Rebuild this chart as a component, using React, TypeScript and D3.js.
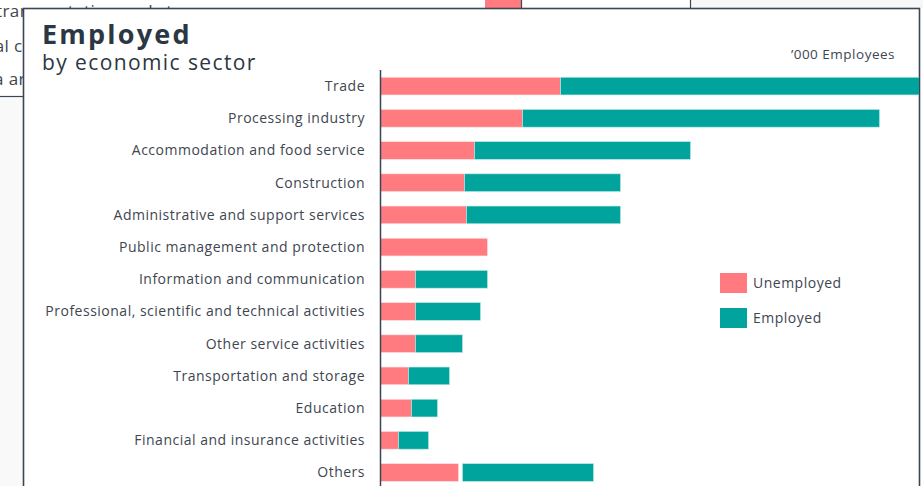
import React from "react";
import * as d3 from "d3";

const categories = [
  "Trade",
  "Processing industry",
  "Accommodation and food service",
  "Construction",
  "Administrative and support services",
  "Public management and protection",
  "Information and communication",
  "Professional, scientific and technical activities",
  "Other service activities",
  "Transportation and storage",
  "Education",
  "Financial and insurance activities",
  "Others",
];
const unemployed = [180, 142, 94, 84, 86, 107, 35, 35, 35, 28, 31, 18, 78];
const notStated = [0, 0, 0, 0, 0, 0, 0, 0, 0, 0, 0, 0, 4];
const employed = [380, 357, 216, 156, 154, 0, 72, 65, 47, 41, 26, 30, 131];
const seriesNames = ["Unemployed", "Employed"];

const W = 923;
const H = 486;
const RED = "#FF7B80";
const TEAL = "#00A49C";
const BORDER = "#3B4654";
const TEXT = "#3E4650";
const FONT = "'Open Sans', Lato, sans-serif";

export default function App() {
  const x = d3.scaleLinear().domain([0, 540]).range([380.5, 920.5]);
  const y = d3
    .scaleBand<string>()
    .domain(categories)
    .range([70, 70 + 13 * 32.2])
    .paddingInner(0.45)
    .paddingOuter(0.225);

  const rows = categories.map((c, i) => ({
    c,
    u: unemployed[i],
    g: notStated[i],
    e: employed[i],
  }));

  return (
    <svg
      width={W}
      height={H}
      style={{ position: "absolute", left: 0, top: 0, display: "block" }}
    >
      <defs>
        <clipPath id="card">
          <rect x={24} y={9} width={895} height={H} />
        </clipPath>
        <clipPath id="behind">
          <path d={`M0,0H${W}V8H23V${H}H0Z`} />
        </clipPath>
      </defs>
      {/* background remnants of an underlying view */}
      <rect x={0} y={0} width={W} height={H} fill="#ffffff" />
      <rect x={0} y={97} width={23} height={H} fill="#F9F9F9" />
      <rect x={690} y={0} width={W - 690} height={8} fill="#F7F7F7" />
      <line x1={0} x2={24} y1={96.5} y2={96.5} stroke={BORDER} strokeWidth={1.2} />
      <rect x={485} y={0} width={36} height={8} fill={RED} />
      <line x1={521.5} x2={521.5} y1={0} y2={8} stroke={BORDER} strokeWidth={1.2} />
      <line x1={690.5} x2={690.5} y1={0} y2={8} stroke={BORDER} strokeWidth={1.2} />
      <g clipPath="url(#behind)">
        <text x={-4} y={17} fontFamily={FONT} fontSize={17} letterSpacing={0.4} fill={TEXT}>
          transportation and storage
        </text>
        <text x={-10} y={52} fontFamily={FONT} fontSize={17} letterSpacing={0.4} fill={TEXT}>
          ial c
        </text>
        <text x={-6} y={85} fontFamily={FONT} fontSize={17} letterSpacing={0.4} fill={TEXT}>
          a ar
        </text>
      </g>

      {/* card */}
      <rect
        x={23.5}
        y={8.5}
        width={896}
        height={H + 10}
        fill="#ffffff"
        stroke={BORDER}
        strokeWidth={1.6}
      />
      <text
        x={42}
        y={44}
        fontFamily={FONT}
        fontSize={27}
        fontWeight={700}
        letterSpacing={2.2}
        fill="#2B3742"
      >
        Employed
      </text>
      <text
        x={42}
        y={70}
        fontFamily={FONT}
        fontSize={21}
        letterSpacing={1.4}
        fill="#2B3742"
      >
        by economic sector
      </text>
      <text
        x={895}
        y={59}
        textAnchor="end"
        fontFamily={FONT}
        fontSize={13.5}
        letterSpacing={0.5}
        fill={TEXT}
      >
        ’000 Employees
      </text>

      <g clipPath="url(#card)">
        {rows.map((r) => {
          const yy = y(r.c) as number;
          const bw = y.bandwidth();
          return (
            <g key={r.c}>
              <rect
                x={x(0)}
                y={yy}
                width={x(r.u) - x(0)}
                height={bw}
                fill={RED}
                stroke="#ffe3e4"
                strokeWidth={0.6}
              />
              {r.e > 0 && (
                <rect
                  x={x(r.u + r.g)}
                  y={yy}
                  width={x(r.u + r.g + r.e) - x(r.u + r.g)}
                  height={bw}
                  fill={TEAL}
                  stroke="#bfe8e5"
                  strokeWidth={0.6}
                />
              )}
              <text
                x={365}
                y={yy + bw / 2}
                dy="0.35em"
                textAnchor="end"
                fontFamily={FONT}
                fontSize={14}
                letterSpacing={0.5}
                fill={TEXT}
              >
                {r.c}
              </text>
            </g>
          );
        })}
        <line x1={380.5} x2={380.5} y1={70} y2={H} stroke={BORDER} strokeWidth={1.5} />
      </g>

      {/* legend */}
      {seriesNames.map((s, i) => (
        <g key={s} transform={`translate(720, ${273 + i * 35})`}>
          <rect width={27} height={20} fill={i === 0 ? RED : TEAL} />
          <text
            x={33}
            y={10}
            dy="0.35em"
            fontFamily={FONT}
            fontSize={14}
            letterSpacing={0.5}
            fill={TEXT}
          >
            {s}
          </text>
        </g>
      ))}
    </svg>
  );
}
